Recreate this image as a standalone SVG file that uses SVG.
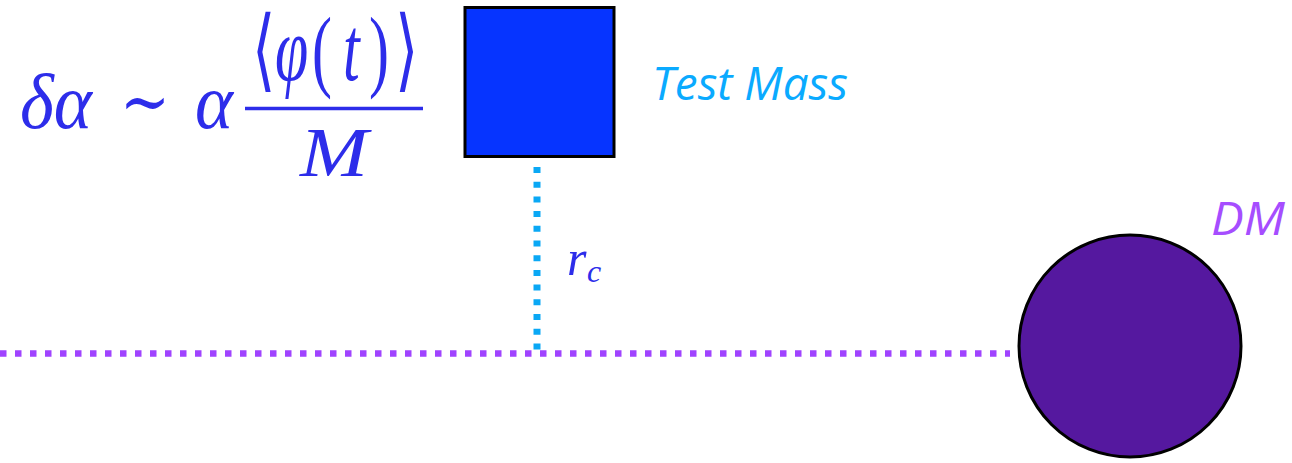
<svg xmlns="http://www.w3.org/2000/svg" width="1292" height="463" viewBox="0 0 1292 463">
<style>
.math{font-family:"Liberation Serif","DejaVu Serif",serif;fill:#2d2dea}
.it{font-style:italic}
.label{font-family:"Open Sans","Liberation Sans",sans-serif;font-style:italic}
</style>
<rect width="1292" height="463" fill="#ffffff"/>
<g id="connectors">
<line id="baseline" x1="0" y1="353.5" x2="1010" y2="353.5" stroke="#a043ff" stroke-width="6.5" stroke-dasharray="6.5 8.5"/>
<line id="rc-line" x1="537" y1="167" x2="537" y2="351" stroke="#0aa8f5" stroke-width="7" stroke-dasharray="6 8.7"/>
</g>
<g id="formula">
<text class="math it" x="20" y="128" font-size="78" textLength="72" lengthAdjust="spacingAndGlyphs">δα</text>
<text class="math" x="120" y="126" font-size="72" textLength="50" lengthAdjust="spacingAndGlyphs">∼</text>
<text class="math it" x="195" y="128" font-size="78" textLength="38" lengthAdjust="spacingAndGlyphs">α</text>
<line x1="245" y1="108.5" x2="423" y2="108.5" stroke="#2d2dea" stroke-width="3.5"/>
<g transform="translate(0,80) scale(1,1.5)">
<text class="math" x="252" y="0" font-size="60">⟨</text>
<text class="math it" x="275" y="0" font-size="60">φ</text>
<text class="math" x="312" y="0" font-size="60">(</text>
<text class="math it" x="343" y="0" font-size="60">t</text>
<text class="math" x="369" y="0" font-size="60">)</text>
<text class="math" x="395" y="0" font-size="60">⟩</text>
</g>
<text class="math it" x="300" y="176" font-size="70" textLength="68" lengthAdjust="spacingAndGlyphs">M</text>
</g>
<g id="test-mass">
<rect x="465" y="7.5" width="149" height="149" fill="#0634ff" stroke="#000000" stroke-width="3"/>
<text class="label" x="652" y="100" font-size="46" fill="#0aaaff" textLength="196" lengthAdjust="spacingAndGlyphs">Test Mass</text>
</g>
<g id="rc-label">
<text class="math it" x="567" y="275" font-size="50">r</text>
<text class="math it" x="587" y="282" font-size="32">c</text>
</g>
<g id="dm">
<circle cx="1130" cy="346" r="111" fill="#55189f" stroke="#000000" stroke-width="3"/>
<text class="label" x="1211" y="235" font-size="46" fill="#a64dff" textLength="74" lengthAdjust="spacingAndGlyphs">DM</text>
</g>
</svg>
